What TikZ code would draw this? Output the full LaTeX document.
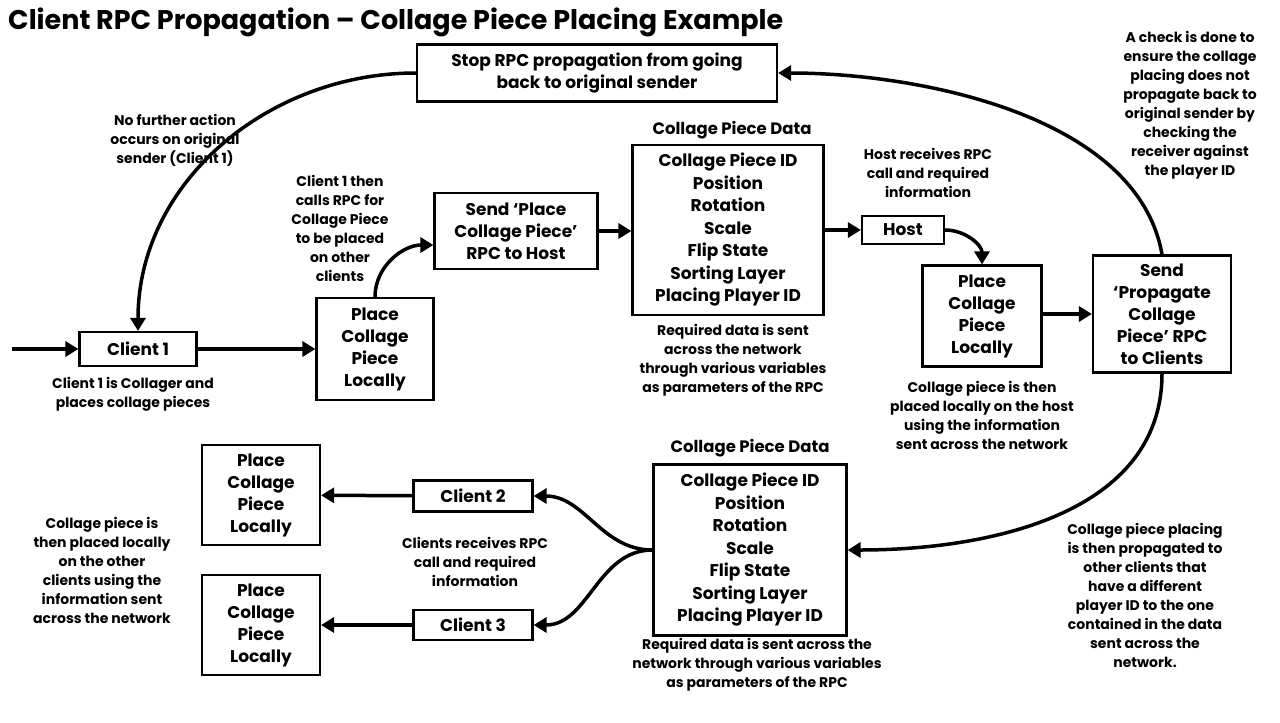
\documentclass[tikz,border=0pt]{standalone}
\usepackage{fontspec}
\setmainfont{Poppins}
\usetikzlibrary{arrows.meta}
\begin{document}
\begin{tikzpicture}[x=1pt,y=-1pt,
 box/.style={draw,line width=2.2pt,align=center,font=\fontsize{17}{22}\selectfont\bfseries,inner sep=0pt},
 note/.style={align=center,font=\fontsize{14}{19}\selectfont\bfseries,inner sep=0pt},
 hd/.style={font=\fontsize{16.5}{19}\selectfont\bfseries,inner sep=0pt},
 arr/.style={line width=3.5pt,-{Triangle[length=13pt,width=15pt]}}]
\useasboundingbox (0,0) rectangle (1280,723);
\node[anchor=west,font=\fontsize{27}{30}\selectfont\bfseries,inner sep=0pt] (title) at (8,22) {Client RPC Propagation – Collage Piece Placing Example};
\node[box,minimum width=360,minimum height=57] (stop) at (597,73) {Stop RPC propagation from going\\back to original sender};
\node[box,minimum width=117,minimum height=34] (c1) at (138,349) {Client 1};
\node[box,minimum width=117,minimum height=102] (p1) at (375,349) {Place\\Collage\\Piece\\Locally};
\node[box,minimum width=163,minimum height=76] (send) at (516,231) {Send ‘Place\\Collage Piece’\\RPC to Host};
\node[box,minimum width=191,minimum height=170,font=\fontsize{17}{22.5}\selectfont\bfseries] (d1) at (728,230) {Collage Piece ID\\Position\\Rotation\\Scale\\Flip State\\Sorting Layer\\Placing Player ID};
\node[hd] (d1h) at (732,130) {Collage Piece Data};
\node[box,minimum width=82,minimum height=28] (host) at (903,230) {Host};
\node[box,minimum width=119,minimum height=101] (ph) at (982,316) {Place\\Collage\\Piece\\Locally};
\node[box,minimum width=138,minimum height=117] (sp) at (1162,314) {Send\\‘Propagate\\Collage\\Piece’ RPC\\to Clients};
\node[box,minimum width=193,minimum height=171,font=\fontsize{17}{22.5}\selectfont\bfseries] (d2) at (750,550) {Collage Piece ID\\Position\\Rotation\\Scale\\Flip State\\Sorting Layer\\Placing Player ID};
\node[hd] (d2h) at (750,448) {Collage Piece Data};
\node[box,minimum width=119,minimum height=31] (c2) at (473,496) {Client 2};
\node[box,minimum width=119,minimum height=30] (c3) at (473,625) {Client 3};
\node[box,minimum width=118,minimum height=100] (p2) at (261,495) {Place\\Collage\\Piece\\Locally};
\node[box,minimum width=118,minimum height=100] (p3) at (261,625) {Place\\Collage\\Piece\\Locally};
\node[note] (n1) at (175,140) {No further action\\occurs on original\\sender (Client 1)};
\node[note] (n2) at (340,228) {Client 1 then\\calls RPC for\\Collage Piece\\to be placed\\on other\\clients};
\node[note] (n3) at (133,394) {Client 1 is Collager and\\places collage pieces};
\node[note] (n4) at (733,360) {Required data is sent\\across the network\\through various variables\\as parameters of the RPC};
\node[note] (n5) at (928,173) {Host receives RPC\\call and required\\information};
\node[note] (n6) at (1190,105) {A check is done to\\ensure the collage\\placing does not\\propagate back to\\original sender by\\checking the\\receiver against\\the player ID};
\node[note] (n7) at (982,415) {Collage piece is then\\placed locally on the host\\using the information\\sent across the network};
\node[note] (n8) at (1145,595) {Collage piece placing\\is then propagated to\\other clients that\\have a different\\player ID to the one\\contained in the data\\sent across the\\network.};
\node[note] (n9) at (475,562) {Clients receives RPC\\call and required\\information};
\node[note] (n10) at (102,570) {Collage piece is\\then placed locally\\on the other\\clients using the\\information sent\\across the network};
\node[note] (n11) at (757,665) {Required data is sent across the\\network through various variables\\as parameters of the RPC};
\coordinate (start) at (12,349);
\draw[arr] (start) -- (c1);
\draw[arr] (c1) -- (p1);
\draw[arr] (p1.north) to[out=90,in=180] (send.west|-0,245);
\draw[arr] (send) -- (d1.west|-send);
\draw[arr] (d1.east|-host) -- (host);
\draw[arr] (host.east) to[out=0,in=90] (ph.north);
\draw[arr] (ph.east|-sp) -- (sp);
\draw[arr] (sp.north) to[out=100,in=0,looseness=0.85] (stop.east);
\draw[arr] (stop.west) to[out=180,in=90] (c1.north);
\draw[arr] (sp.south) to[out=-90,in=0] (d2.east);
\draw[arr] (d2.west) to[out=180,in=0] (c2.east);
\draw[arr] (d2.west) to[out=180,in=0] (c3.east);
\draw[arr] (c2) -- (p2);
\draw[arr] (c3) -- (p3);
\end{tikzpicture}
\end{document}
